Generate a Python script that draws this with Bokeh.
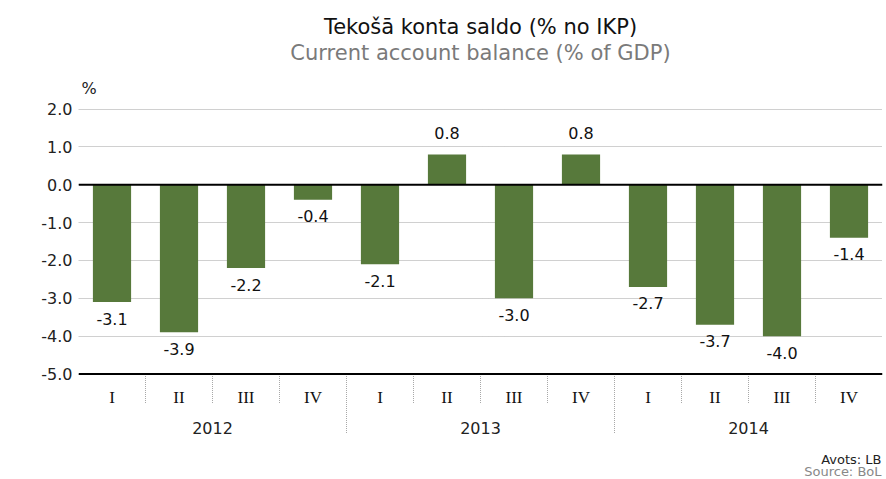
from bokeh.plotting import figure
from bokeh.models import Range1d, FixedTicker, NumeralTickFormatter, Span, ColumnDataSource
from bokeh.core.properties import value
from bokeh.embed import file_html
from bokeh.resources import INLINE

# ---- data ----
title_lv = "Tekošā konta saldo (% no IKP)"
title_en = "Current account balance (% of GDP)"
unit_label = "%"
years = ["2012", "2013", "2014"]
quarters = ["I", "II", "III", "IV"]
balance = [-3.1, -3.9, -2.2, -0.4, -2.1, 0.8, -3.0, 0.8, -2.7, -3.7, -4.0, -1.4]
y_ticks = [-5.0, -4.0, -3.0, -2.0, -1.0, 0.0, 1.0, 2.0]
source_lv = "Avots: LB"
source_en = "Source: BoL"

# ---- layout (pixels in figure space) ----
W, H = 886, 479
LEFT, RIGHT = 78, 4
TOP_TICK_PX = 108.5      # pixel row of highest tick
BOT_TICK_PX = 373.5      # pixel row of lowest tick
y_hi_t, y_lo_t = max(y_ticks), min(y_ticks)
PX = (BOT_TICK_PX - TOP_TICK_PX) / (y_hi_t - y_lo_t)
y_top = y_hi_t + TOP_TICK_PX / PX
y_bot = y_lo_t - (H - BOT_TICK_PX) / PX


def yd(py):
    """pixel row in figure -> data y"""
    return y_top - py / PX


n = len(balance)
nq = len(quarters)
FONT = "DejaVu Sans"

p = figure(width=W, height=H, output_backend="svg", toolbar_location=None,
           x_range=Range1d(0, n), y_range=Range1d(y_bot, y_top),
           min_border_left=LEFT, min_border_right=RIGHT, min_border_top=0, min_border_bottom=0,
           outline_line_color=None, background_fill_color="white", border_fill_color="white")
p.xaxis.visible = False
p.xgrid.visible = False

yax = p.yaxis[0]
yax.ticker = FixedTicker(ticks=y_ticks)
yax.formatter = NumeralTickFormatter(format="0.0")
yax.axis_line_color = None
yax.major_tick_line_color = None
yax.minor_tick_line_color = None
yax.major_tick_out = 0
yax.major_tick_in = 0
yax.major_label_standoff = 6
yax.major_label_text_font = FONT
yax.major_label_text_font_size = "16px"
yax.major_label_text_color = "#222222"

p.ygrid.grid_line_color = "#a0a0a0"
p.ygrid.grid_line_dash = "1 1"
p.ygrid.grid_line_width = 1
p.ygrid.ticker = FixedTicker(ticks=y_ticks)

# bars
xc = [i + 0.5 for i in range(n)]
src = ColumnDataSource(dict(
    x=xc, top=balance,
    lab=["{:.1f}".format(v) for v in balance],
    off=[-21.5 if v > 0 else 16.5 for v in balance],
))
p.vbar(x="x", top="top", bottom=0, width=0.57, source=src,
       fill_color="#57793b", line_color=None)

# baseline and bottom axis line
p.add_layout(Span(location=0, dimension="width", line_color="black", line_width=2))
p.add_layout(Span(location=y_lo_t, dimension="width", line_color="black", line_width=2))

# value labels
p.text(x="x", y="top", text="lab", source=src, y_offset="off",
       text_align="center", text_baseline="alphabetic",
       text_font=value(FONT), text_font_size="16px", text_color="#111111")

# separators
q_bounds = [i for i in range(1, n) if i % nq != 0]
y_bounds = [i for i in range(1, n) if i % nq == 0]
p.segment(x0=q_bounds, x1=q_bounds, y0=[y_lo_t] * len(q_bounds), y1=[yd(403)] * len(q_bounds),
          line_color="#a8a8a8", line_dash="1 1", line_width=1)
p.segment(x0=y_bounds, x1=y_bounds, y0=[y_lo_t] * len(y_bounds), y1=[yd(433.5)] * len(y_bounds),
          line_color="#a8a8a8", line_dash="1 1", line_width=1)

# quarter labels
q_labels = [quarters[i % nq] for i in range(n)]
p.text(x=xc, y=[yd(397.3)] * n, text=q_labels, text_align="center", text_baseline="alphabetic",
       text_font=value("Liberation Serif"), text_font_size="17px", text_color="#111111")

# year labels
yx = [k * nq + nq / 2 for k in range(len(years))]
p.text(x=yx, y=[yd(427)] * len(years), text=years, text_align="center", text_baseline="alphabetic",
       text_font=value(FONT), text_font_size="16px", text_color="#222222")

# titles
p.text(x=[n / 2], y=[yd(26)], text=[title_lv], text_align="center", text_baseline="alphabetic",
       text_font=value(FONT), text_font_size="21px", text_color="#111111")
p.text(x=[n / 2], y=[yd(52)], text=[title_en], text_align="center", text_baseline="alphabetic",
       text_font=value(FONT), text_font_size="21px", text_color="#7a7a7a")

# unit label
p.text(x=[0], y=[yd(88.3)], text=[unit_label], text_align="left", text_baseline="alphabetic",
       x_offset=3, text_font=value(FONT), text_font_size="16px", text_color="#222222")

# source
p.text(x=[n], y=[yd(459)], text=[source_lv], text_align="right", text_baseline="alphabetic",
       x_offset=-1, text_font=value(FONT), text_font_size="13px", text_color="#222222")
p.text(x=[n], y=[yd(471)], text=[source_en], text_align="right", text_baseline="alphabetic",
       x_offset=-1, text_font=value(FONT), text_font_size="13px", text_color="#888888")

open("out.html", "w").write(file_html(p, INLINE))
